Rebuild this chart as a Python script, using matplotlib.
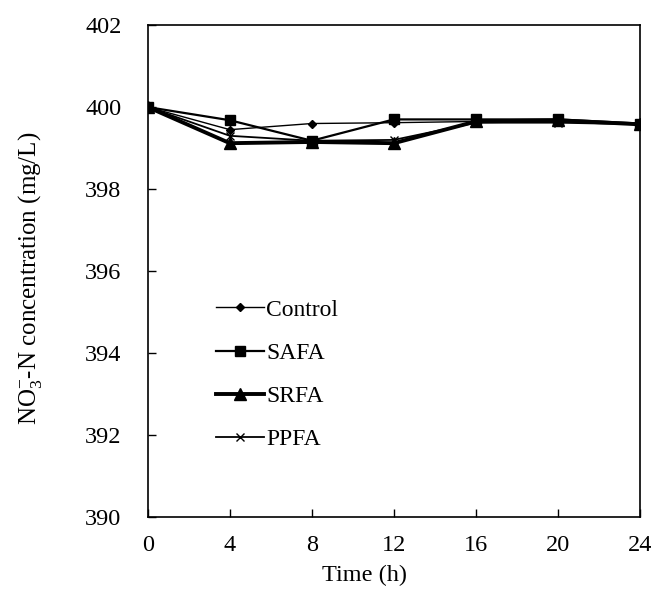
import matplotlib
matplotlib.use("Agg")
import matplotlib.pyplot as plt

plt.rcParams['font.family'] = ['Liberation Serif', 'DejaVu Serif']
plt.rcParams['mathtext.fontset'] = 'custom'
plt.rcParams['mathtext.rm'] = 'Liberation Serif'

# time points (h)
time_h = [0, 4, 8, 12, 16, 20, 24]

# NO3-N concentration (mg/L)
control = [400.0, 399.45, 399.6, 399.62, 399.65, 399.65, 399.6]
safa = [400.0, 399.68, 399.18, 399.7, 399.7, 399.7, 399.6]
srfa = [400.0, 399.12, 399.15, 399.12, 399.65, 399.68, 399.58]
ppfa = [400.0, 399.3, 399.18, 399.2, 399.62, 399.62, 399.58]

x_ticks = [0, 4, 8, 12, 16, 20, 24]
y_ticks = [390, 392, 394, 396, 398, 400, 402]

fig = plt.figure(figsize=(6.57, 5.99), dpi=100)
ax = fig.add_axes([0.225, 0.137, 0.749, 0.821])

ax.plot(time_h, control, color='black', lw=1.0, marker='D', ms=4.5, label='Control')
ax.plot(time_h, safa, color='black', lw=1.6, marker='s', ms=7, label='SAFA')
ax.plot(time_h, srfa, color='black', lw=2.8, marker='^', ms=9, label='SRFA')
ax.plot(time_h, ppfa, color='black', lw=1.3, marker='x', ms=6, mew=1.0, label='PPFA')

ax.set_xlim(0, 24)
ax.set_ylim(390, 402)
ax.set_xticks(x_ticks)
ax.set_yticks(y_ticks)
ax.tick_params(direction='in', length=6, width=1, labelsize=17.5, colors='black')
ax.tick_params(axis='y', pad=19)
ax.tick_params(axis='x', pad=13)
for s in ax.spines.values():
    s.set_linewidth(1.2)

ax.set_xlabel('Time (h)', fontsize=17.5)
ax.set_ylabel(r'NO$\mathregular{_3^{-}}$-N concentration (mg/L)', fontsize=18)
ax.xaxis.set_label_coords(0.44, -0.098)
ax.yaxis.set_label_coords(-0.211, 0.486)

leg = ax.legend(loc='upper left', bbox_to_anchor=(0.12, 0.462), frameon=False,
                fontsize=17, handlelength=2.0, handletextpad=0.1,
                labelspacing=0.92, borderaxespad=0)

fig.savefig('out.png', dpi=100)
